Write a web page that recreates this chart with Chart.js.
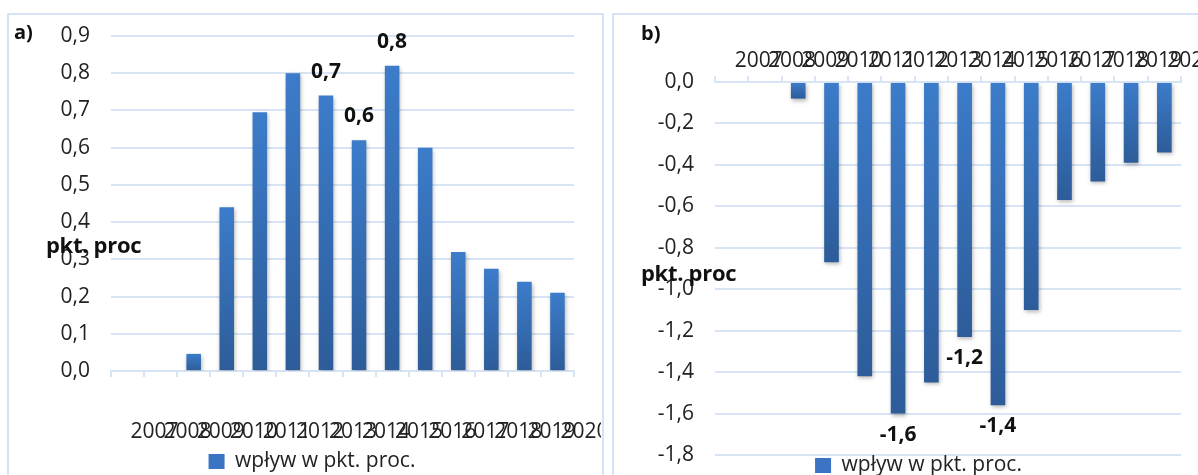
<!DOCTYPE html>
<html>
<head>
<meta charset="utf-8">
<script src="https://cdn.jsdelivr.net/npm/chart.js@4.4.1/dist/chart.umd.min.js"></script>
<style>
    html, body { margin: 0; padding: 0; background: #fff; overflow: hidden; width: 1198px; height: 475px; }
    .frame { position: absolute; border: 2px solid #d5e3f4; box-sizing: border-box; }
    .box { position: absolute; }
    .note { position: absolute; font-family: "Open Sans", sans-serif; font-weight: bold; font-size: 20px; color: #111; line-height: 24px; white-space: nowrap; z-index: 2; }
    .axis-note { font-size: 22px; letter-spacing: -0.3px; }
</style>
</head>
<body>
<div class="frame" style="left:7px; top:13px; width:597px; height:520px;"></div>
<div class="frame" style="left:612px; top:13px; width:620px; height:520px;"></div>

<div class="box" style="left:8px; top:14px; width:593px; height:468px;"><canvas id="chartA"></canvas></div>
<div class="box" style="left:613px; top:14px; width:600px; height:472px;"><canvas id="chartB"></canvas></div>

<div class="note" style="left:14px; top:20px;">a)</div>
<div class="note" style="left:641px; top:21px;">b)</div>
<div class="note axis-note" style="left:46px; top:232px;">pkt. proc</div>
<div class="note axis-note" style="left:641px; top:260px;">pkt. proc</div>

<script>
const years = ['2007', '2008', '2009', '2010', '2011', '2012', '2013', '2014', '2015', '2016', '2017', '2018', '2019', '2020'];
const seriesName = 'wpływ w pkt. proc.';

// panel a) - positive effect
const valuesA = [0, 0, 0.046, 0.44, 0.695, 0.80, 0.74, 0.62, 0.82, 0.60, 0.32, 0.275, 0.24, 0.21];
const labelCatsA = ['2013', '2014', '2015'];
const labelTextA = ['0,7', '0,6', '0,8'];

// panel b) - negative effect
const valuesB = [0, 0, -0.08, -0.87, -1.42, -1.60, -1.45, -1.23, -1.56, -1.10, -0.57, -0.48, -0.39, -0.34];
const labelCatsB = ['2012', '2014', '2015'];
const labelTextB = ['-1,6', '-1,2', '-1,4'];

const fontFamily = '"Open Sans", sans-serif';
const narrowFamily = '"Liberation Sans Narrow", "Open Sans", sans-serif';
const gridColor = '#d6e4f5';

function fmt(v) {
    if (Math.abs(v) < 1e-9) v = 0;
    return v.toFixed(1).replace('.', ',');
}

function barFill(context) {
    const chart = context.chart;
    if (context.type !== 'data' || !chart.chartArea || !context.parsed) return '#3a74c2';
    const y = chart.scales.y;
    const p0 = y.getPixelForValue(0);
    const p1 = y.getPixelForValue(context.parsed.y);
    const top = Math.min(p0, p1), bottom = Math.max(p0, p1);
    if (bottom - top < 1) return '#3a74c2';
    const g = chart.ctx.createLinearGradient(0, top, 0, bottom);
    g.addColorStop(0, '#3c7cca');
    g.addColorStop(1, '#2d5c99');
    return g;
}

// soft shadow under each bar, like the office chart
const barShadow = {
    id: 'barShadow',
    beforeDatasetsDraw(chart) {
        chart.ctx.save();
        chart.ctx.shadowColor = 'rgba(0,0,0,0.28)';
        chart.ctx.shadowBlur = 4;
        chart.ctx.shadowOffsetX = 1;
        chart.ctx.shadowOffsetY = 2;
    },
    afterDatasetsDraw(chart) {
        chart.ctx.restore();
    }
};

const valueLabels = {
    id: 'valueLabels',
    afterDatasetsDraw(chart, args, opts) {
        const meta = chart.getDatasetMeta(0);
        const data = chart.data.datasets[0].data;
        const ctx = chart.ctx;
        ctx.save();
        ctx.font = 'bold 21px ' + fontFamily;
        ctx.fillStyle = '#111';
        ctx.textAlign = 'center';
        ctx.textBaseline = 'middle';
        opts.cats.forEach((cat, k) => {
            const i = chart.data.labels.indexOf(cat);
            if (i < 0) return;
            const bar = meta.data[i];
            const y = data[i] >= 0 ? bar.y - opts.gap : bar.y + opts.gap;
            ctx.fillText(opts.texts[k], bar.x, y);
        });
        ctx.restore();
    }
};

function makeChart(id, values, cats, texts, cfg) {
    return new Chart(document.getElementById(id), {
        type: 'bar',
        data: {
            labels: years,
            datasets: [{
                label: seriesName,
                data: values,
                backgroundColor: barFill,
                borderWidth: 0,
                barPercentage: 0.88,
                categoryPercentage: 0.5
            }]
        },
        options: {
            responsive: true,
            maintainAspectRatio: false,
            animation: false,
            layout: { padding: cfg.padding },
            plugins: {
                legend: {
                    position: 'bottom',
                    labels: {
                        boxWidth: 16,
                        boxHeight: 15,
                        padding: 0,
                        color: '#222',
                        font: { family: fontFamily, size: 21 }
                    }
                },
                tooltip: { enabled: false },
                valueLabels: { cats: cats, texts: texts, gap: cfg.labelGap }
            },
            scales: {
                x: {
                    position: cfg.xPos,
                    grid: {
                        drawOnChartArea: false,
                        drawTicks: true,
                        tickLength: 6,
                        color: gridColor,
                        lineWidth: 2
                    },
                    border: { display: true, color: gridColor, width: 2 },
                    ticks: {
                        autoSkip: false,
                        maxRotation: 0,
                        minRotation: 0,
                        labelOffset: 27,
                        padding: cfg.xPad,
                        color: '#222',
                        font: { family: narrowFamily, size: 21 }
                    },
                    afterFit(scale) {
                        scale.height = cfg.xHeight;
                        scale.paddingLeft = 0;
                        scale.paddingRight = 0;
                    }
                },
                y: {
                    min: cfg.yMin,
                    max: cfg.yMax,
                    grid: { color: gridColor, lineWidth: 2, drawTicks: false },
                    border: { display: false },
                    ticks: {
                        stepSize: cfg.yStep,
                        padding: 21,
                        color: '#222',
                        font: { family: fontFamily, size: 21 },
                        callback: v => fmt(v)
                    },
                    afterFit(scale) {
                        scale.width = cfg.yWidth;
                        scale.paddingTop = 0;
                        scale.paddingBottom = 0;
                    }
                }
            }
        },
        plugins: [barShadow, valueLabels]
    });
}

makeChart('chartA', valuesA, labelCatsA, labelTextA, {
    padding: { top: 22, left: 42, right: 27, bottom: 0 },
    xPos: 'bottom', xPad: 42, xHeight: 80,
    yMin: 0, yMax: 0.9, yStep: 0.1, yWidth: 61,
    labelGap: 24
});

makeChart('chartB', valuesB, labelCatsB, labelTextB, {
    padding: { top: 36, left: 43, right: 32, bottom: 0 },
    xPos: 'top', xPad: 2, xHeight: 32,
    yMin: -1.8, yMax: 0, yStep: 0.2, yWidth: 59,
    labelGap: 21
});
</script>
</body>
</html>
